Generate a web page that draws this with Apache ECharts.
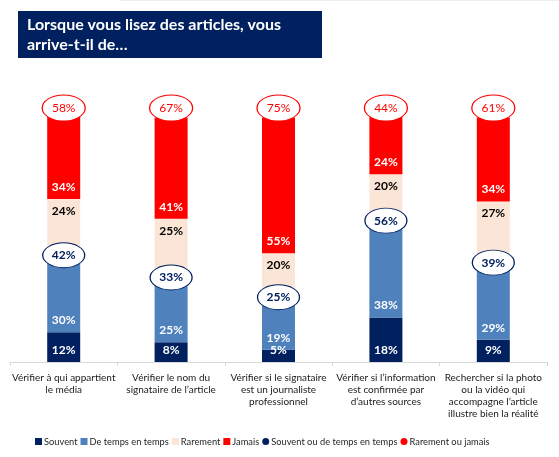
<!DOCTYPE html>
<html>
<head>
<meta charset="utf-8">
<script src="https://cdn.jsdelivr.net/npm/echarts@6/dist/echarts.min.js"></script>
<style>
html,body{margin:0;padding:0;background:#fff;}
#chart{width:559px;height:457px;}
</style>
</head>
<body>
<div id="chart"></div>
<script>
const titleText = 'Lorsque vous lisez des articles, vous\narrive-t-il de…';
const categories = [
  'Vérifier à qui appartient\nle média',
  'Vérifier le nom du\nsignataire de l’article',
  'Vérifier si le signataire\nest un journaliste\nprofessionnel',
  'Vérifier si l’information\nest confirmée par\nd’autres sources',
  'Rechercher si la photo\nou la vidéo qui\naccompagne l’article\nillustre bien la réalité'
];
const seriesNames = ['Souvent', 'De temps en temps', 'Rarement', 'Jamais', 'Souvent ou de temps en temps', 'Rarement ou jamais'];
const souvent = [12, 8, 5, 18, 9];
const deTemps = [30, 25, 19, 38, 29];
const rarement = [24, 25, 20, 20, 27];
const jamais = [34, 41, 55, 24, 34];
const souventOuDeTemps = [42, 33, 25, 56, 39];
const rarementOuJamais = [58, 67, 75, 44, 61];

const NAVY = '#002060';
const BLUE = '#4f81bd';
const BEIGE = '#fbe5d6';
const RED = '#ff0000';
const FONT = 'Lato';

function barSeries(name, data, color, textColor, pos) {
  return {
    name: name, type: 'bar', stack: 'total', barWidth: 33, data: data,
    itemStyle: { color: color },
    label: {
      show: true, position: pos, distance: 6, formatter: '{c}%',
      color: textColor, fontFamily: FONT, fontWeight: 'bold', fontSize: 12
    }
  };
}

const chart = echarts.init(document.getElementById('chart'));
chart.setOption({
  animation: false,
  textStyle: { fontFamily: FONT },
  graphic: [
    { type: 'rect', shape: { x: 18, y: 11, width: 304, height: 47 }, style: { fill: NAVY }, z: 0 },
    { type: 'line', shape: { x1: 120, y1: 0.5, x2: 559, y2: 0.5 }, style: { stroke: '#ececec', lineWidth: 1 } }
  ],
  title: {
    text: titleText, left: 27, top: 15, padding: 0, z: 10,
    textStyle: { color: '#fff', fontFamily: FONT, fontWeight: 'bold', fontSize: 16, lineHeight: 20 }
  },
  legend: {
    left: 30, top: 432, width: 540, itemWidth: 7, itemHeight: 7, itemGap: 3,
    textStyle: { fontFamily: FONT, fontSize: 9.3, color: '#262626', padding: [0, 0, 0, -3] },
    data: [
      { name: seriesNames[0], icon: 'rect' },
      { name: seriesNames[1], icon: 'rect' },
      { name: seriesNames[2], icon: 'rect' },
      { name: seriesNames[3], icon: 'rect' },
      { name: seriesNames[4], icon: 'circle', itemStyle: { color: NAVY, borderWidth: 0 } },
      { name: seriesNames[5], icon: 'circle', itemStyle: { color: RED, borderWidth: 0 } }
    ]
  },
  grid: { left: 10, right: 12, top: 115, bottom: 95, containLabel: false },
  xAxis: {
    type: 'category', data: categories,
    axisLine: { lineStyle: { color: '#d9d9d9' } },
    axisTick: { show: true, length: 4, lineStyle: { color: '#d9d9d9' } },
    axisLabel: { interval: 0, color: '#1a1a1a', fontFamily: FONT, fontSize: 10, lineHeight: 12, margin: 10 }
  },
  yAxis: { type: 'value', min: 0, max: 100, show: false, splitLine: { show: false } },
  series: [
    barSeries(seriesNames[0], souvent, NAVY, '#fff', 'insideBottom'),
    barSeries(seriesNames[1], deTemps, BLUE, '#fff', 'insideBottom'),
    barSeries(seriesNames[2], rarement, BEIGE, '#000', 'insideTop'),
    barSeries(seriesNames[3], jamais, RED, '#fff', 'insideBottom'),
    {
      name: seriesNames[4], type: 'scatter', z: 5,
      data: souventOuDeTemps,
      symbol: 'circle', symbolSize: [42, 25], symbolOffset: [0, -3],
      itemStyle: { color: '#fff', borderColor: NAVY, borderWidth: 1, opacity: 1 },
      label: { show: true, position: 'inside', formatter: '{c}%', color: NAVY, fontFamily: FONT, fontWeight: 'bold', fontSize: 12 }
    },
    {
      name: seriesNames[5], type: 'scatter', z: 5,
      data: rarementOuJamais.map((v, i) => ({ value: souventOuDeTemps[i] + v })),
      symbol: 'circle', symbolSize: [43, 26], symbolOffset: [0, -7],
      itemStyle: { color: '#fff', borderColor: RED, borderWidth: 1, opacity: 1 },
      label: { show: true, position: 'inside', formatter: p => rarementOuJamais[p.dataIndex] + '%', color: RED, fontFamily: FONT, fontSize: 12 }
    }
  ]
});
</script>
</body>
</html>
